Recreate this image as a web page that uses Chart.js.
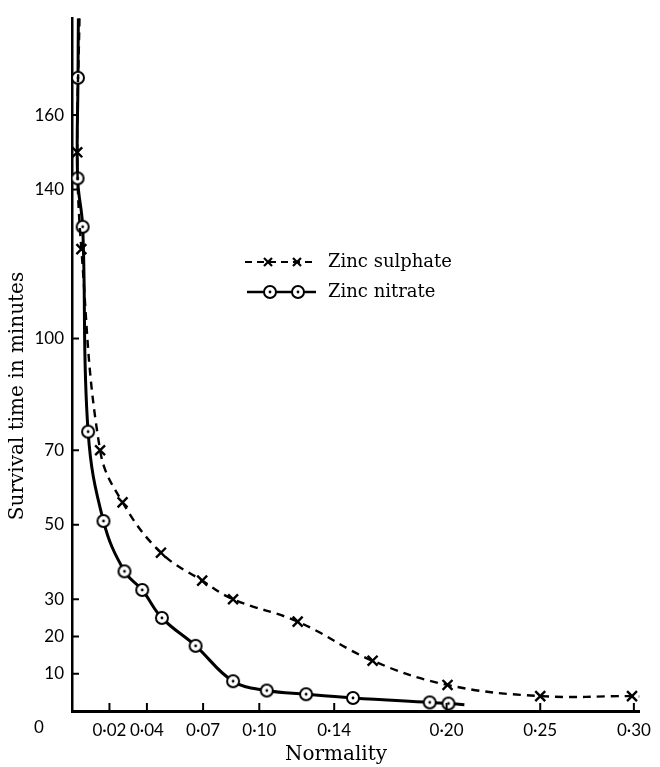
<!DOCTYPE html>
<html>
<head>
<meta charset="utf-8">
<script src="https://cdn.jsdelivr.net/npm/chart.js@4.4.1/dist/chart.umd.min.js"></script>
<style>
    html, body { margin: 0; padding: 0; background: #fff; }
</style>
</head>
<body>
<canvas id="zincChart" width="660" height="767"></canvas>
<script>
'use strict';

// tick values shown on the axes
const xTicks = [0.02, 0.04, 0.07, 0.10, 0.14, 0.20, 0.25, 0.30];
const yTicks = [10, 20, 30, 50, 70, 100, 140, 160];

// zinc sulphate (crosses, dashed) - first and last entries are the ends of the drawn curve
const sulphateN = [0.0040, 0.0028, 0.0050, 0.0150, 0.0270, 0.0475, 0.0695, 0.0860, 0.1205, 0.1605, 0.2005, 0.2500, 0.2990, 0.3030];
const sulphateT = [186, 150, 124, 70, 56, 42.5, 35, 30, 24, 13.5, 7, 4, 4, 3.9];

// zinc nitrate (circles, solid)
const nitrateN = [0.0034, 0.0032, 0.0030, 0.0057, 0.0086, 0.0168, 0.0280, 0.0375, 0.0480, 0.0660, 0.0860, 0.1040, 0.1250, 0.1500, 0.1910, 0.2010, 0.2095];
const nitrateT = [186, 170, 143, 130, 75, 51, 37.5, 32.5, 25, 17.5, 8, 5.5, 4.5, 3.5, 2.3, 2, 1.7];

const tickFont = { family: 'Lato', size: 17 };
const serif = 'DejaVu Serif';

function fmtN(v) {
    return v.toFixed(2).replace('.', '\u00b7');
}

// circle with a dot in the middle, used as point style
function ringDot() {
    const c = document.createElement('canvas');
    c.width = 16;
    c.height = 16;
    const g = c.getContext('2d');
    g.beginPath();
    g.arc(8, 8, 6, 0, Math.PI * 2);
    g.fillStyle = '#fff';
    g.fill();
    g.lineWidth = 2;
    g.strokeStyle = '#000';
    g.stroke();
    g.beginPath();
    g.arc(8, 8, 1.4, 0, Math.PI * 2);
    g.fillStyle = '#000';
    g.fill();
    return c;
}
const ring = ringDot();

function pairs(xs, ys) {
    return xs.map((v, i) => ({ x: v, y: ys[i] }));
}

function endsHidden(r) {
    return ctx => (ctx.dataIndex === 0 || ctx.dataIndex === ctx.dataset.data.length - 1) ? 0 : r;
}

function drawCross(ctx, x, y, r) {
    ctx.beginPath();
    ctx.moveTo(x - r, y - r);
    ctx.lineTo(x + r, y + r);
    ctx.moveTo(x + r, y - r);
    ctx.lineTo(x - r, y + r);
    ctx.stroke();
}

const paperPlugin = {
    id: 'paper',
    afterDraw(chart) {
        const { ctx, chartArea: a, scales: { x, y } } = chart;
        ctx.save();
        ctx.strokeStyle = '#000';
        ctx.fillStyle = '#000';
        ctx.lineWidth = 2;

        // inward tick marks
        yTicks.forEach(v => {
            const py = y.getPixelForValue(v);
            ctx.beginPath();
            ctx.moveTo(a.left, py);
            ctx.lineTo(a.left + 7, py);
            ctx.stroke();
        });
        xTicks.forEach(v => {
            const px = x.getPixelForValue(v);
            ctx.beginPath();
            ctx.moveTo(px, a.bottom);
            ctx.lineTo(px, a.bottom - 8);
            ctx.stroke();
        });

        // origin label
        ctx.font = '17px Lato';
        ctx.textAlign = 'center';
        ctx.textBaseline = 'middle';
        ctx.fillText('0', 39, 728);

        // axis titles
        ctx.font = '20px "' + serif + '"';
        ctx.fillText('Normality', 336, 755);
        ctx.save();
        ctx.translate(18, 396);
        ctx.rotate(-Math.PI / 2);
        ctx.fillText('Survival time in minutes', 0, 0);
        ctx.restore();

        // legend
        ctx.lineWidth = 2.2;
        ctx.setLineDash([7, 5]);
        ctx.beginPath();
        ctx.moveTo(245, 262);
        ctx.lineTo(316, 262);
        ctx.stroke();
        ctx.setLineDash([]);
        drawCross(ctx, 268, 262, 4);
        drawCross(ctx, 297, 262, 4);

        ctx.lineWidth = 2.6;
        ctx.beginPath();
        ctx.moveTo(247, 292);
        ctx.lineTo(316, 292);
        ctx.stroke();
        ctx.drawImage(ring, 270 - 8, 292 - 8);
        ctx.drawImage(ring, 298 - 8, 292 - 8);

        ctx.font = '18px "' + serif + '"';
        ctx.textAlign = 'left';
        ctx.fillText('Zinc sulphate', 328, 262);
        ctx.fillText('Zinc nitrate', 328, 292);
        ctx.restore();
    }
};

new Chart(document.getElementById('zincChart'), {
    type: 'line',
    data: {
        datasets: [
            {
                label: 'Zinc sulphate',
                data: pairs(sulphateN, sulphateT),
                borderColor: '#000',
                borderWidth: 2.4,
                borderDash: [8, 6],
                tension: 0.4,
                pointStyle: 'crossRot',
                pointRadius: endsHidden(7),
                pointBorderWidth: 2.4,
                pointBorderColor: '#000',
                pointBackgroundColor: '#000'
            },
            {
                label: 'Zinc nitrate',
                data: pairs(nitrateN, nitrateT),
                borderColor: '#000',
                borderWidth: 3,
                tension: 0.4,
                pointStyle: ring,
                pointRadius: endsHidden(6)
            }
        ]
    },
    options: {
        responsive: false,
        animation: false,
        layout: {
            padding: { top: 15, right: 12, left: 0, bottom: 0 }
        },
        plugins: {
            legend: { display: false },
            tooltip: { enabled: false }
        },
        scales: {
            x: {
                type: 'linear',
                min: 0,
                max: 0.303,
                afterFit: s => { s.height = 56; },
                afterBuildTicks: s => { s.ticks = xTicks.map(v => ({ value: v })); },
                ticks: {
                    color: '#000',
                    font: tickFont,
                    padding: 9,
                    maxRotation: 0,
                    autoSkip: false,
                    callback: v => fmtN(v)
                },
                grid: { drawOnChartArea: false, drawTicks: false },
                border: { display: true, color: '#000', width: 3 }
            },
            y: {
                type: 'linear',
                min: 0,
                max: 186,
                afterFit: s => { s.width = 72; },
                afterBuildTicks: s => { s.ticks = yTicks.map(v => ({ value: v })); },
                ticks: {
                    color: '#000',
                    font: tickFont,
                    padding: 8,
                    autoSkip: false
                },
                grid: { drawOnChartArea: false, drawTicks: false },
                border: { display: true, color: '#000', width: 2.5 }
            }
        }
    },
    plugins: [paperPlugin]
});
</script>
</body>
</html>
